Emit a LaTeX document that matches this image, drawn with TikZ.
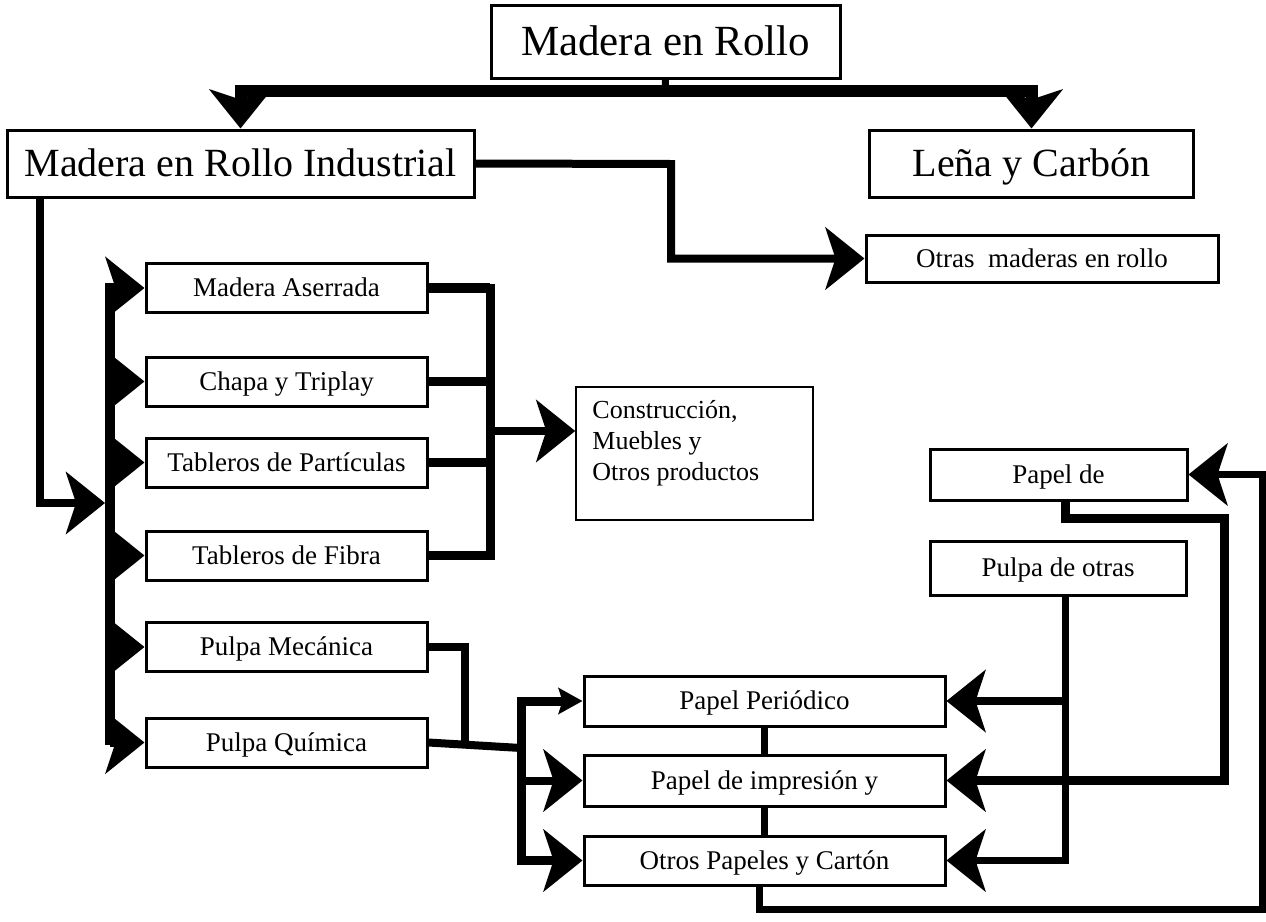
\documentclass[tikz,border=0pt]{standalone}
\usepackage{fontspec}
\setmainfont{Liberation Serif}
\usetikzlibrary{arrows.meta}
\begin{document}
\begin{tikzpicture}[x=1pt,y=-1pt,
  box/.style={draw, line width=3pt, fill=white, inner sep=0pt, font=\fontsize{27}{32}\selectfont, text height=23.2pt, text depth=5.4pt},
  bigfont/.style={font=\fontsize{40}{48}\selectfont, text height=34.4pt, text depth=8pt},
  smallbox/.style={box, minimum width=281pt, minimum height=49pt},
  paperbox/.style={box, minimum width=361pt, minimum height=50pt},
  bigarrow/.style={-{Stealth[length=39pt,width=62pt,inset=10pt]}},
  smallarrow/.style={-{Stealth[length=24pt,width=26pt,inset=4pt]}},
  conn/.style={line width=#1, line join=miter},
]
\useasboundingbox (0,0) rectangle (1266,921);

% nodes
\node[box, minimum width=349pt, minimum height=73pt, font=\fontsize{43}{50}\selectfont, text height=37pt, text depth=8.6pt] (top) at (665.5,41.5) {Madera en Rollo};
\node[box, bigfont, minimum width=467pt, minimum height=67pt] (ind) at (240.5,163.5) {Madera en Rollo Industrial};
\node[box, bigfont, minimum width=324pt, minimum height=67pt] (lena) at (1031.5,163.5) {Leña y Carbón};
\node[box, minimum width=352pt, minimum height=47pt] (otras) at (1042,258.5) {Otras\ \ maderas en rollo};

\node[smallbox] (ma) at (286.5,288) {Madera Aserrada};
\node[smallbox] (ch) at (286.5,381.5) {Chapa y Triplay};
\node[smallbox] (tp) at (286.5,462.5) {Tableros de Partículas};
\node[smallbox] (tf) at (286.5,555.5) {Tableros de Fibra};
\node[smallbox] (pm) at (286.5,647) {Pulpa Mecánica};
\node[smallbox] (pq) at (286.5,742.5) {Pulpa Química};

\node[draw, line width=1.5pt, minimum width=237pt, minimum height=133pt] (cons) at (694.5,453.5) {};
\node[anchor=north west, align=left, inner sep=0pt, font=\fontsize{26}{31}\selectfont] (conslabel) at ([xshift=17pt,yshift=-14pt]cons.north west) {Construcción,\\Muebles y\\Otros productos};

\node[box, minimum width=257pt, minimum height=51pt] (papde) at (1058.5,474.5) {Papel de};
\node[box, minimum width=256pt, minimum height=54pt] (pulpaot) at (1058,568) {Pulpa de otras};

\node[paperbox] (pp) at (764.5,701) {Papel Periódico};
\node[paperbox, minimum height=51pt] (pi) at (764.5,780.5) {Papel de impresión y};
\node[paperbox, minimum height=49pt] (op) at (764.5,860.5) {Otros Papeles y Cartón};

% coordinates
\coordinate (tb) at (665,91);
\coordinate (jo) at (671,164);
\coordinate (id) at (40,503);
\coordinate (busin) at (105,503);
\coordinate (bt) at (110,283);
\coordinate (bb) at (110,745);
\coordinate (rx) at (490,288);
\coordinate (rj) at (490,431);
\coordinate (pmj) at (465,746);
\coordinate (lbj) at (521,748);
\coordinate (pvb) at (1065,861);
\coordinate (pdc) at (1224,518);
\coordinate (oc) at (1262,909);

% top split
\draw[conn=7pt] (top.south) -- (tb);
\draw[conn=12pt, bigarrow] (tb) -| (ind.north);
\draw[conn=12pt, bigarrow] (tb) -| (lena.north);

% industrial to otras
\draw[conn=8pt, bigarrow] (ind.east) -- (jo) |- (otras.west);

% industrial to left bus
\draw[conn=8pt, bigarrow] (id |- ind.south) -- (id) -- (busin);
\draw[conn=10pt] (bt) -- (bb);
\foreach \n in {ma,ch,tp,tf,pm,pq}
  \draw[conn=8pt, bigarrow] (\n.west -| bt) -- (\n.west);

% right bus to construction
\draw[conn=9pt] (ma.east) -| (rx |- tf.east) -- (tf.east);
\draw[conn=10pt] (ma.east) -- (ma.east -| rx);
\draw[conn=9pt] (ch.east) -- (ch.east -| rx);
\draw[conn=9pt] (tp.east) -- (tp.east -| rx);
\draw[conn=8pt, bigarrow] (rj) -- (rj -| cons.west);

% pulp to paper
\draw[conn=8pt] (pm.east) -| (pmj);
\draw[conn=8pt] (pq.east) -- (lbj);
\draw[conn=9pt, smallarrow] (lbj) |- (pp.west);
\draw[conn=9pt, bigarrow] (lbj) |- (op.west);
\draw[conn=8pt, bigarrow] (lbj |- pi.west) -- (pi.west);

% paper links
\draw[conn=7pt] (pp.south) -- (pi.north);
\draw[conn=7pt] (pi.south) -- (op.north);

% pulpa de otras
\draw[conn=7pt, bigarrow] (pvb |- pulpaot.south) |- (op.east);
\draw[conn=8pt, bigarrow] (pp.east -| pvb) -- (pp.east);

% papel de loop
\draw[conn=9pt, bigarrow] (pvb |- papde.south) |- (pdc) |- (pi.east);

% return loop
\draw[conn=7pt, bigarrow] ([xshift=-5pt]op.south) |- (oc) |- (papde.east);
\end{tikzpicture}
\end{document}
